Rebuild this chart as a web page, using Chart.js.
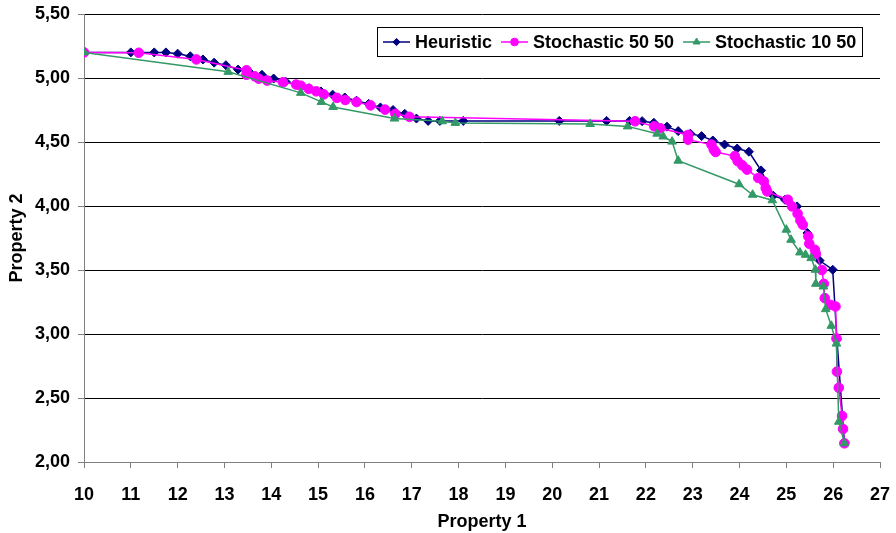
<!DOCTYPE html>
<html>
<head>
<meta charset="utf-8">
<script src="https://cdn.jsdelivr.net/npm/chart.js@4.4.1/dist/chart.umd.min.js"></script>
<style>
  html, body { margin: 0; padding: 0; background: #fff; }
  #wrap { width: 896px; height: 533px; }
</style>
</head>
<body>
<div id="wrap"><canvas id="c" width="896" height="533"></canvas></div>
<script>
// Series names
const seriesNames = ['Heuristic', 'Stochastic 50 50', 'Stochastic 10 50'];

// Heuristic front
const heuristicX = [10.0, 11.0, 11.5, 11.75, 12.0, 12.27, 12.54, 12.78, 13.03, 13.29, 13.54, 13.8, 14.05, 14.31, 14.56,
  14.81, 15.06, 15.31, 15.57, 15.82, 16.08, 16.33, 16.6, 16.85, 17.1, 17.35, 17.6, 18.1, 20.15, 21.16, 21.65,
  21.92, 22.17, 22.45, 22.69, 22.95, 23.19, 23.43, 23.68, 23.95, 24.2, 24.46, 24.72, 24.97, 25.23, 25.45, 25.71,
  25.99, 26.08, 26.24];
const heuristicY = [5.20, 5.20, 5.20, 5.20, 5.19, 5.17, 5.145, 5.12, 5.10, 5.066, 5.045, 5.025, 4.996, 4.97, 4.945,
  4.92, 4.895, 4.87, 4.848, 4.823, 4.798, 4.77, 4.75, 4.72, 4.683, 4.665, 4.665, 4.665, 4.665, 4.665, 4.665,
  4.663, 4.65, 4.62, 4.585, 4.565, 4.546, 4.512, 4.48, 4.449, 4.424, 4.278, 4.081, 4.049, 3.997, 3.789, 3.574,
  3.502, 2.96, 2.15];

// Stochastic 50 50 front
const stoch5050X = [10.0, 11.17, 12.4, 13.47, 13.47, 13.65, 13.73, 13.91, 14.25, 14.53, 14.63, 14.8, 14.96, 15.12,
  15.4, 15.58, 15.82, 16.12, 16.43, 16.65, 16.95, 21.77, 22.18, 22.31, 22.9, 22.9, 23.4, 23.45, 23.49, 23.9,
  23.96, 24.06, 24.16, 24.4, 24.52, 24.56, 24.59, 25.03, 25.12, 25.24, 25.3, 25.35, 25.47, 25.49, 25.61, 25.63,
  25.76, 25.8, 25.82, 25.94, 26.05, 26.07, 26.08, 26.12, 26.19, 26.21, 26.24];
const stoch5050Y = [5.20, 5.197, 5.145, 5.06, 5.025, 5.013, 4.995, 4.98, 4.967, 4.949, 4.94, 4.915, 4.896, 4.872,
  4.845, 4.828, 4.812, 4.786, 4.753, 4.72, 4.697, 4.662, 4.622, 4.607, 4.555, 4.518, 4.48, 4.44, 4.422, 4.39,
  4.35, 4.317, 4.284, 4.219, 4.192, 4.14, 4.114, 4.049, 3.997, 3.94, 3.887, 3.854, 3.762, 3.705, 3.658, 3.627,
  3.50, 3.392, 3.28, 3.228, 3.215, 2.965, 2.706, 2.58, 2.36, 2.258, 2.146];

// Stochastic 10 50 front
const stoch1050X = [10.0, 13.08, 14.63, 15.07, 15.32, 16.63, 17.65, 17.93, 20.81, 21.61, 22.24, 22.37, 22.56, 22.69,
  23.99, 24.28, 24.7, 25.0, 25.1, 25.29, 25.41, 25.53, 25.62, 25.63, 25.79, 25.84, 25.96, 26.07, 26.12, 26.24];
const stoch1050Y = [5.20, 5.048, 4.884, 4.813, 4.774, 4.683, 4.662, 4.649, 4.641, 4.622, 4.565, 4.543, 4.503, 4.354,
  4.17, 4.088, 4.045, 3.815, 3.736, 3.637, 3.619, 3.593, 3.502, 3.392, 3.371, 3.194, 3.064, 2.925, 2.315, 2.146];

// Axis tick labels
const xTickLabels = ['10', '11', '12', '13', '14', '15', '16', '17', '18', '19', '20', '21', '22', '23', '24', '25', '26', '27'];
const yTickLabels = ['2,00', '2,50', '3,00', '3,50', '4,00', '4,50', '5,00', '5,50'];

const FONT = '"Liberation Sans", Arial, Helvetica, sans-serif';
const toPoints = (xs, ys) => xs.map((x, i) => ({ x: x, y: ys[i] }));

function drawMarker(ctx, style, x, y, r, color) {
  ctx.save();
  ctx.fillStyle = color;
  ctx.strokeStyle = color;
  ctx.lineWidth = 1;
  ctx.beginPath();
  if (style === 'rectRot') {
    ctx.moveTo(x, y - r); ctx.lineTo(x + r, y); ctx.lineTo(x, y + r); ctx.lineTo(x - r, y);
    ctx.closePath();
  } else if (style === 'triangle') {
    const s = r * Math.sqrt(3) / 2;
    ctx.moveTo(x, y - r); ctx.lineTo(x + s, y + r / 2); ctx.lineTo(x - s, y + r / 2);
    ctx.closePath();
  } else {
    ctx.arc(x, y, r, 0, Math.PI * 2);
  }
  ctx.fill();
  ctx.stroke();
  ctx.restore();
}

// Boxed legend placed inside the upper right of the plot area
const boxLegend = {
  id: 'boxLegend',
  afterDraw(chart) {
    const ctx = chart.ctx;
    const area = chart.chartArea;
    const sets = [0, 1, 2].map(i => chart.data.datasets.find(d => d.seriesIndex === i));
    ctx.save();
    ctx.font = 'bold 18px ' + FONT;
    const sample = 27, gapText = 5, gapItem = 9, padL = 6, padR = 6, h = 29;
    const widths = sets.map(d => ctx.measureText(d.label).width);
    let total = padL + padR;
    widths.forEach((w, i) => { total += sample + gapText + w + (i ? gapItem : 0); });
    total = Math.round(total);
    const right = Math.round(area.right - 18);
    const left = right - total;
    const top = Math.round(area.top + 13);
    ctx.fillStyle = '#fff';
    ctx.fillRect(left, top, total, h);
    ctx.strokeStyle = '#000';
    ctx.lineWidth = 1;
    ctx.strokeRect(left + 0.5, top + 0.5, total, h);
    const cy = top + h / 2 + 0.5;
    let x = left + padL;
    sets.forEach((d, i) => {
      if (i) x += gapItem;
      ctx.strokeStyle = d.borderColor;
      ctx.lineWidth = d.borderWidth;
      ctx.beginPath();
      ctx.moveTo(x, cy); ctx.lineTo(x + sample, cy);
      ctx.stroke();
      drawMarker(ctx, d.pointStyle, x + sample / 2, cy, d.pointRadius * 0.8, d.pointBackgroundColor);
      x += sample + gapText;
      ctx.fillStyle = '#000';
      ctx.textBaseline = 'middle';
      ctx.textAlign = 'left';
      ctx.fillText(d.label, x, cy + 1);
      x += widths[i];
    });
    ctx.restore();
  }
};

const navy = '#000080', magenta = '#FF00FF', green = '#339966';

new Chart(document.getElementById('c'), {
  type: 'scatter',
  data: {
    datasets: [
      {
        seriesIndex: 0, label: seriesNames[0], data: toPoints(heuristicX, heuristicY),
        showLine: true, borderColor: navy, borderWidth: 1.5, order: 3,
        pointStyle: 'rectRot', pointRadius: 4.5, pointBackgroundColor: navy, pointBorderColor: navy, pointBorderWidth: 1
      },
      {
        seriesIndex: 1, label: seriesNames[1], data: toPoints(stoch5050X, stoch5050Y),
        showLine: true, borderColor: magenta, borderWidth: 1.5, order: 2,
        pointStyle: 'circle', pointRadius: 4.8, pointBackgroundColor: magenta, pointBorderColor: magenta, pointBorderWidth: 1
      },
      {
        seriesIndex: 2, label: seriesNames[2], data: toPoints(stoch1050X, stoch1050Y),
        showLine: true, borderColor: green, borderWidth: 1.5, order: 1,
        pointStyle: 'triangle', pointRadius: 5, pointBackgroundColor: green, pointBorderColor: green, pointBorderWidth: 1
      }
    ]
  },
  options: {
    responsive: false,
    animation: false,
    devicePixelRatio: 1,
    layout: { padding: { top: 14, right: 16, bottom: 0, left: 0 } },
    plugins: { legend: { display: false }, tooltip: { enabled: false } },
    elements: { line: { tension: 0 } },
    scales: {
      x: {
        type: 'linear', min: 10, max: 27,
        afterBuildTicks(scale) { scale.ticks = xTickLabels.map(t => ({ value: Number(t) })); },
        afterFit(scale) { scale.height = 71; scale.paddingLeft = 0; scale.paddingRight = 0; },
        ticks: {
          autoSkip: false, maxRotation: 0, padding: 16, color: '#000',
          font: { family: FONT, size: 18, weight: 'bold' },
          callback: (v, i) => xTickLabels[i]
        },
        grid: { drawOnChartArea: false, drawTicks: true, tickLength: 6, color: '#808080', tickColor: '#808080' },
        border: { display: true, color: '#808080', width: 1 },
        title: {
          display: true, text: 'Property 1', color: '#000',
          font: { family: FONT, size: 18, weight: 'bold' }, padding: { top: 0, bottom: 0 }
        }
      },
      y: {
        type: 'linear', min: 2, max: 5.5,
        afterBuildTicks(scale) { scale.ticks = yTickLabels.map(t => ({ value: Number(t.replace(',', '.')) })); },
        afterFit(scale) { scale.width = 84; scale.paddingTop = 0; scale.paddingBottom = 0; },
        ticks: {
          autoSkip: false, padding: 8, color: '#000',
          font: { family: FONT, size: 18, weight: 'bold' },
          callback: (v, i) => yTickLabels[i]
        },
        grid: { drawTicks: true, tickLength: 6, color: '#000', tickColor: '#808080', lineWidth: 1 },
        border: { display: true, color: '#808080', width: 1 },
        title: {
          display: true, text: 'Property 2', color: '#000',
          font: { family: FONT, size: 18, weight: 'bold' }, padding: { top: 6, bottom: 0 }
        }
      }
    }
  },
  plugins: [boxLegend]
});
</script>
</body>
</html>
